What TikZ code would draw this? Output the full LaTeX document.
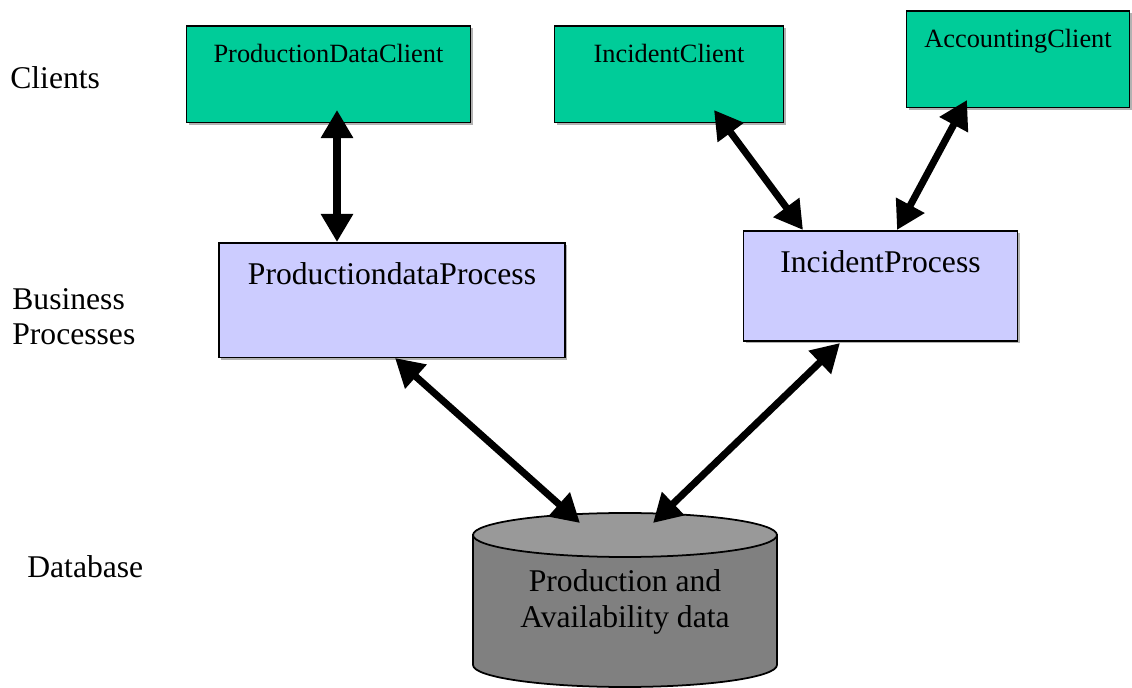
\documentclass[tikz,border=0pt]{standalone}
\usepackage{fontspec}
\setmainfont{Liberation Serif}
\usetikzlibrary{arrows.meta,shadows}

\definecolor{clientgreen}{RGB}{0,204,153}
\definecolor{procblue}{RGB}{204,204,255}
\definecolor{dbtop}{RGB}{153,153,153}
\definecolor{dbbody}{RGB}{128,128,128}

\begin{document}
\begin{tikzpicture}[x=0.02cm, y=-0.02cm,
    bigtext/.style={font=\fontsize{18}{20}\selectfont},
    clientbox/.style={draw, line width=1pt, fill=clientgreen, anchor=north, inner sep=0pt,
        text height=21pt, text depth=34pt, font=\fontsize{15}{18}\selectfont,
        general shadow={fill=gray!60, shadow xshift=1.2pt, shadow yshift=-1.2pt}},
    procbox/.style={draw, line width=1pt, fill=procblue, anchor=north, inner sep=0pt,
        text height=23.8pt, bigtext,
        general shadow={fill=gray!60, shadow xshift=1.2pt, shadow yshift=-1.2pt}},
    link/.style={{Triangle[length=16pt,width=17.5pt]}-{Triangle[length=16pt,width=17.5pt]}, line width=4pt}]
    \useasboundingbox (0,0) rectangle (1132,688);

    % Layer labels
    \node[bigtext, anchor=base west, inner sep=0pt] (lclients) at (10,89) {Clients};
    \node[bigtext, anchor=base west, inner sep=0pt, align=left] (lbusiness) at (12,345) {Business\\Processes};
    \node[bigtext, anchor=base west, inner sep=0pt] (ldatabase) at (27,578) {Database};

    % Clients
    \node[clientbox, minimum width=161.6pt] (pdc) at (328.5,25) {ProductionDataClient};
    \node[clientbox, minimum width=130.4pt] (ic) at (669,25) {IncidentClient};
    \node[clientbox, minimum width=127pt] (ac) at (1018,10) {AccountingClient};

    % Business processes
    \node[procbox, minimum width=197.3pt, text depth=41.4pt] (pdp) at (392,242) {ProductiondataProcess};
    \node[procbox, minimum width=156pt, text depth=38.8pt] (ip) at (880.5,230) {IncidentProcess};

    % Database cylinder
    \draw[fill=dbbody, line width=1pt] (473,535) -- (473,665)
        arc[start angle=180, end angle=360, x radius=3.04cm, y radius=0.44cm] -- (777,535) -- cycle;
    \draw[fill=dbtop, line width=1pt] (625,535) ellipse [x radius=3.04cm, y radius=0.44cm];
    \node[bigtext, align=center] (db) at (625,602) {Production and\\Availability data};

    % Arrow ends
    \coordinate (pdcA) at (337,110);
    \coordinate (pdpA) at (337,242);
    \coordinate (icA) at (714,110);
    \coordinate (ipA) at (803,230);
    \coordinate (acA) at (967,100);
    \coordinate (ipB) at (897,230);
    \coordinate (pdpB) at (395,358);
    \coordinate (dbA) at (580,523);
    \coordinate (ipC) at (840,343);
    \coordinate (dbB) at (653,523);

    % Arrows
    \draw[link] (pdcA) -- (pdpA);
    \draw[link] (icA) -- (ipA);
    \draw[link] (acA) -- (ipB);
    \draw[link] (pdpB) -- (dbA);
    \draw[link] (ipC) -- (dbB);
\end{tikzpicture}
\end{document}
